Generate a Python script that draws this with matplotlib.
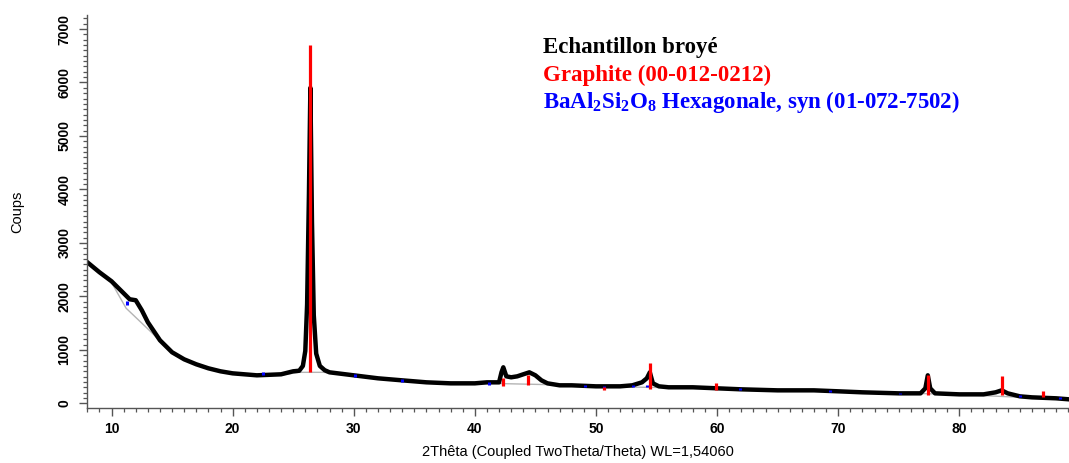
import numpy as np
import matplotlib
matplotlib.use('Agg')
import matplotlib.pyplot as plt
from matplotlib.ticker import MultipleLocator

plt.rcParams['font.family'] = ['Liberation Sans', 'DejaVu Sans']
plt.rcParams['mathtext.fontset'] = 'custom'
plt.rcParams['mathtext.rm'] = 'Liberation Serif:bold'
plt.rcParams['mathtext.bf'] = 'Liberation Serif:bold'

two_theta = [8.0, 9.0, 10.0, 11.0, 11.5, 12.0, 12.5, 13.0, 14.0, 15.0, 16.0, 17.0,
             18.0, 19.0, 20.0, 22.0, 24.0, 25.0, 25.5, 25.8, 26.0, 26.15, 26.3,
             26.42, 26.55, 26.7, 26.9, 27.2, 27.6, 28.0, 30.0, 32.0, 34.0, 36.0,
             38.0, 40.0, 41.0, 42.0, 42.2, 42.35, 42.6, 43.0, 43.5, 44.0, 44.5,
             45.0, 45.5, 46.0, 47.0, 48.0, 50.0, 52.0, 53.0, 53.8, 54.2, 54.45,
             54.7, 55.2, 56.0, 58.0, 60.0, 62.0, 65.0, 68.0, 70.0, 72.0, 75.0,
             76.8, 77.2, 77.4, 77.6, 78.0, 80.0, 82.0, 83.0, 83.5, 84.0, 85.0,
             86.0, 88.0, 89.06]
counts = [2639, 2452, 2283, 2059, 1946, 1928, 1741, 1516, 1179, 955, 823, 730,
          655, 599, 561, 524, 543, 599, 610, 700, 980, 1850, 3900,
          5900, 3400, 1650, 930, 700, 620, 580, 524, 468, 430, 393,
          374, 374, 393, 393, 580, 674, 505, 487, 505, 543, 580,
          524, 430, 374, 337, 337, 318, 318, 337, 393, 468, 580,
          374, 318, 300, 300, 281, 262, 243, 243, 225, 206, 187,
          187, 281, 524, 281, 187, 168, 168, 206, 243, 187, 131,
          112, 94, 75]

# fitted background (gray)
bg_theta = [8.0, 10.0, 11.2, 13.1, 14.0, 15.0, 17.0, 20.0, 22.0, 24.0, 25.5,
            27.5, 30.0, 34.0, 40.0, 42.0, 46.0, 50.0, 54.0, 56.0, 60.0, 70.0,
            80.0, 89.06]
bg_counts = [2620, 2260, 1780, 1370, 1170, 950, 725, 555, 520, 530, 580,
             580, 520, 425, 370, 370, 350, 315, 300, 295, 280, 222,
             165, 72]

# Graphite (00-012-0212) sticks
graphite_pos = [26.42, 42.34, 44.4, 50.66, 54.46, 59.95, 77.44, 83.5, 86.9]
graphite_low = [580, 318, 337, 243, 275, 243, 150, 150, 112]
graphite_high = [6700, 468, 524, 300, 754, 374, 524, 505, 225]

# BaAl2Si2O8 hexagonal sticks
ba_pos = [11.3, 22.5, 30.1, 34.0, 41.2, 49.1, 50.7, 53.1, 54.2, 61.9, 69.3,
          75.1, 85.0, 88.3]
ba_low = [1830, 524, 492, 400, 350, 300, 290, 300, 310, 250, 215,
          170, 120, 90]
ba_high = [1920, 586, 540, 450, 390, 335, 320, 335, 345, 285, 245,
           200, 150, 115]

fig = plt.figure(figsize=(10.69, 4.63), dpi=100)
ax = fig.add_axes([0.0811, 0.118, 0.9189, 0.8496])

ax.plot(bg_theta, bg_counts, color='#b4b4b4', lw=1.0, zorder=1)
ax.plot(two_theta, counts, color='black', lw=3.2, zorder=2, solid_joinstyle='round')
ax.vlines(ba_pos, ba_low, ba_high, color='#0000ff', lw=2.2, zorder=3)
ax.vlines(graphite_pos, graphite_low, graphite_high, color='#ff0000', lw=2.3, zorder=4)

ax.set_xlim(7.95, 89.06)
ax.set_ylim(-94, 7262)
ax.xaxis.set_major_locator(MultipleLocator(10))
ax.xaxis.set_minor_locator(MultipleLocator(1))
ax.yaxis.set_major_locator(MultipleLocator(1000))
ax.yaxis.set_minor_locator(MultipleLocator(100))

for s in ['top', 'right']:
    ax.spines[s].set_visible(False)
for s in ['left', 'bottom']:
    ax.spines[s].set_color('#555555')
    ax.spines[s].set_linewidth(1.0)

ax.tick_params(axis='both', which='major', direction='out', length=6, width=1.0,
               color='#555555', labelsize=10)
ax.tick_params(axis='both', which='minor', direction='out', length=3, width=0.9,
               color='#555555')
ax.tick_params(axis='x', pad=4)
ax.tick_params(axis='y', pad=5)
for lab in ax.get_xticklabels():
    lab.set_fontweight('bold')
for lab in ax.get_yticklabels():
    lab.set_fontweight('bold')
    lab.set_rotation(90)
    lab.set_va('center')

ax.set_xlabel('2Thêta (Coupled TwoTheta/Theta) WL=1,54060', fontsize=10.5, labelpad=6)
ax.set_ylabel('Coups', fontsize=10.5, labelpad=24)

tx = 543 / 1069
serif = ['Liberation Serif', 'DejaVu Serif']
fig.text(tx, 1 - 53 / 463, 'Echantillon broyé', color='black', fontsize=16.5,
         fontweight='bold', family=serif, va='baseline')
fig.text(tx, 1 - 80.5 / 463, 'Graphite (00-012-0212)', color='#ff0000', fontsize=16.5,
         fontweight='bold', family=serif, va='baseline')
fig.text(tx, 1 - 108 / 463, r'$\mathbf{BaAl_2Si_2O_8}$ Hexagonale, syn (01-072-7502)',
         color='#0000ff', fontsize=16.5, fontweight='bold', family=serif, va='baseline')

fig.savefig('out.png', dpi=100)
